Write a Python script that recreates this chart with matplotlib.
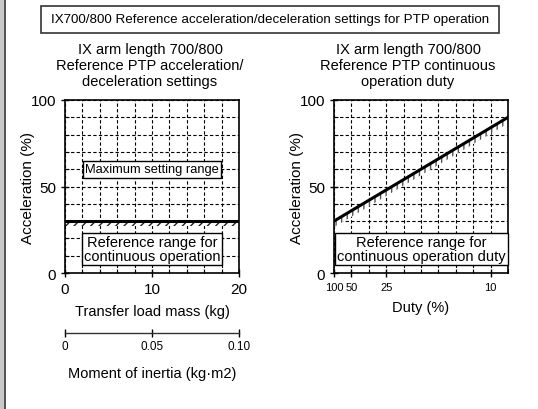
import numpy as np
import matplotlib.pyplot as plt
from matplotlib.patches import Rectangle
from matplotlib.lines import Line2D
from matplotlib.ticker import MultipleLocator, FixedLocator

# data
mass_ticks = [0, 10, 20]
ref_accel = 30          # reference acceleration limit for continuous operation (%)
duty_labels = [100, 50, 25, 10]
duty_pts = [100, 100 / 11]
duty_accel = [30, 90]
inertia_ticks = [0, 0.05, 0.10]
inertia_labels = ['0', '0.05', '0.10']

plt.rcParams['font.family'] = ['Liberation Sans', 'DejaVu Sans']
plt.rcParams['hatch.linewidth'] = 1.0

W, H = 538, 410
fig = plt.figure(figsize=(W / 100, H / 100), dpi=100)

def px(x0, y0, x1, y1):
    return [x0 / W, 1 - y1 / H, (x1 - x0) / W, (y1 - y0) / H]

# left grey strip
fig.patches.append(Rectangle((0, 0), 4 / W, 1, transform=fig.transFigure,
                             facecolor='#c8c8c8', edgecolor='none'))
fig.lines.append(Line2D([4.5 / W, 4.5 / W], [0, 1], transform=fig.transFigure,
                        color='#333333', lw=1.2))

# title box
fig.patches.append(Rectangle((41 / W, 1 - 34 / H), 458 / W, 27 / H,
                             transform=fig.transFigure, facecolor='white',
                             edgecolor='#333333', lw=1.2))
fig.text(270 / W, 1 - 20.5 / H,
         'IX700/800 Reference acceleration/deceleration settings for PTP operation',
         ha='center', va='center', fontsize=9.6)

fig.text(150 / W, 1 - 66 / H,
         'IX arm length 700/800\nReference PTP acceleration/\ndeceleration settings',
         ha='center', va='center', fontsize=10.5, linespacing=1.2)
fig.text(408 / W, 1 - 66 / H,
         'IX arm length 700/800\nReference PTP continuous\noperation duty',
         ha='center', va='center', fontsize=10.5, linespacing=1.2)

def style(ax):
    ax.set_ylim(0, 100)
    ax.yaxis.set_major_locator(FixedLocator([0, 50, 100]))
    ax.yaxis.set_minor_locator(MultipleLocator(10))
    ax.grid(which='both', color='black', ls=(0, (3, 2)), lw=0.8)
    for s in ax.spines.values():
        s.set_linewidth(1.2)
    ax.tick_params(which='major', direction='inout', length=6, width=1, labelsize=11)
    ax.tick_params(which='minor', direction='in', length=3, width=0.8)
    ax.set_ylabel('Acceleration (%)', fontsize=11)
    ax.yaxis.set_label_coords(-0.17, 0.5)
    ax.set_axisbelow(True)

# left chart
ax1 = fig.add_axes(px(65, 101, 239, 274))
ax1.set_xlim(0, 20)
ax1.xaxis.set_major_locator(FixedLocator(mass_ticks))
ax1.xaxis.set_minor_locator(MultipleLocator(2))
style(ax1)
ax1.fill_between([0, 20], ref_accel - 3, ref_accel, facecolor='white',
                 edgecolor='#222222', hatch='////', lw=0, zorder=2)
ax1.axhline(ref_accel, color='black', lw=2.2, zorder=3)
ax1.set_xlabel('Transfer load mass (kg)', fontsize=10.5, labelpad=6)
ax1.text(10, 60, 'Maximum setting range', ha='center', va='center',
         fontsize=9.3, zorder=4,
         bbox=dict(boxstyle='square,pad=0.2', fc='white', ec='black', lw=1))
ax1.text(10, 14, 'Reference range for\ncontinuous operation', ha='center',
         va='center', fontsize=10.5, linespacing=1.0, zorder=4,
         bbox=dict(boxstyle='square,pad=0.15', fc='white', ec='black', lw=1))

# right chart (x axis in 100/duty)
ax2 = fig.add_axes(px(334, 101, 508, 274))
ax2.set_xlim(1, 11)
ax2.xaxis.set_major_locator(FixedLocator([100 / d for d in duty_labels]))
ax2.xaxis.set_minor_locator(MultipleLocator(1))
ax2.set_xticklabels([str(d) for d in duty_labels])
style(ax2)
for lab in ax2.get_xticklabels():
    lab.set_fontsize(8)
xd = [100 / d for d in duty_pts]
ax2.fill_between(xd, [a - 3.5 for a in duty_accel], duty_accel, facecolor='white',
                 edgecolor='#555555', hatch='|||', lw=0, zorder=2)
ax2.plot(xd, duty_accel, color='black', lw=2.2, zorder=3)
ax2.set_xlabel('Duty (%)', fontsize=10.5, labelpad=6)
ax2.text(6, 14, 'Reference range for\ncontinuous operation duty', ha='center',
         va='center', fontsize=10.5, linespacing=1.0, zorder=4,
         bbox=dict(boxstyle='square,pad=0.15', fc='white', ec='black', lw=1))

# moment of inertia scale
ax3 = fig.add_axes([65 / W, 1 - 334 / H, 174 / W, 0.0001])
ax3.set_xlim(0, 0.10)
ax3.set_xticks(inertia_ticks)
ax3.set_xticklabels(inertia_labels, fontsize=8.5)
ax3.set_yticks([])
for s in ['top', 'left', 'right']:
    ax3.spines[s].set_visible(False)
ax3.spines['bottom'].set_linewidth(1)
ax3.spines['bottom'].set_color('#333333')
ax3.tick_params(direction='inout', length=6, width=1, pad=2)
ax3.set_xlabel('Moment of inertia (kg·m2)', fontsize=10.5, labelpad=10)

fig.savefig('out.png', dpi=100)
